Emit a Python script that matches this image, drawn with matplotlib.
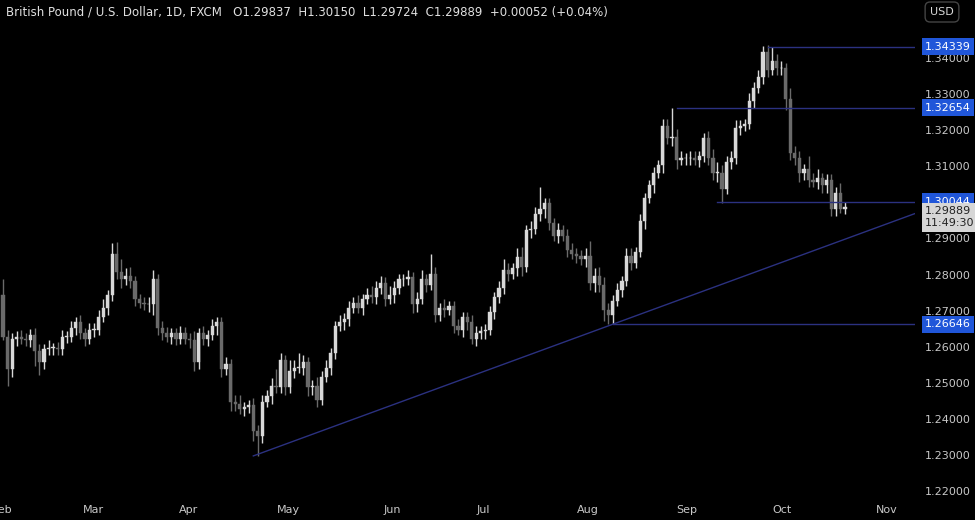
import matplotlib
matplotlib.use("Agg")
import matplotlib.pyplot as plt
import numpy as np

first_open = 1.2745
closes_feb = [1.2630,1.2540,1.2625,1.2630,1.2625,1.2620,1.2635,1.2590,1.2560,1.2595,1.2600,1.2600,1.2595,1.2630,1.2630,1.2655,1.2670,1.2640,1.2625,1.2650]
closes_mar = [1.2650,1.2685,1.2710,1.2745,1.2860,1.2810,1.2790,1.2800,1.2785,1.2735,1.2725,1.2720,1.2720,1.2790,1.2655,1.2640,1.2630,1.2640,1.2625,1.2640,1.2625]
closes_apr = [1.2620,1.2560,1.2640,1.2625,1.2635,1.2660,1.2670,1.2540,1.2555,1.2450,1.2445,1.2430,1.2435,1.2440,1.2370,1.2355,1.2450,1.2465,1.2495,1.2490,1.2565,1.2490]
closes_may = [1.2535,1.2545,1.2545,1.2560,1.2490,1.2495,1.2455,1.2520,1.2545,1.2585,1.2660,1.2670,1.2680,1.2710,1.2725,1.2710,1.2735,1.2745,1.2740,1.2765,1.2780,1.2735,1.2745]
closes_jun = [1.2765,1.2790,1.2790,1.2795,1.2720,1.2735,1.2790,1.2775,1.2805,1.2690,1.2710,1.2705,1.2715,1.2660,1.2650,1.2685,1.2670,1.2625,1.2640,1.2645]
closes_jul = [1.2650,1.2700,1.2740,1.2765,1.2815,1.2805,1.2820,1.2850,1.2825,1.2925,1.2930,1.2970,1.2985,1.3000,1.2945,1.2910,1.2925,1.2910,1.2870,1.2860,1.2855,1.2845,1.2855]
closes_aug = [1.2780,1.2800,1.2775,1.2705,1.2690,1.2730,1.2760,1.2785,1.2855,1.2835,1.2865,1.2950,1.3015,1.3050,1.3085,1.3105,1.3215,1.3180,1.3185,1.3120,1.3125,1.3125]
closes_sep = [1.3125,1.3120,1.3130,1.3180,1.3125,1.3085,1.3085,1.3040,1.3115,1.3125,1.3210,1.3215,1.3220,1.3285,1.3320,1.3350,1.3420,1.3370,1.3395,1.3375,1.3375]
closes_oct = [1.3290,1.3140,1.3125,1.3085,1.3095,1.3065,1.3060,1.3070,1.3050,1.3065,1.2985,1.3030,1.29837,1.29889]

up_pips = [45,20,15,15,20,15,18,20,20,15,20,12,15,18,15,20,15,20,15,18,
           18,20,25,15,30,33,35,20,25,15,15,15,20,25,15,20,18,15,15,20,18,
           15,25,15,20,15,20,15,15,20,15,20,25,15,15,20,15,20,18,20,45,20,15,
           30,20,40,20,15,15,25,15,20,15,15,20,15,20,15,20,15,20,25,20,20,15,25,
           20,15,15,20,15,20,25,15,55,20,15,25,15,15,20,15,15,20,20,15,
           15,15,15,20,30,20,15,25,30,15,20,20,60,15,15,15,20,15,20,20,15,15,20,
           40,20,25,20,20,15,20,15,20,20,15,20,15,15,15,15,20,20,80,20,20,15,
           20,20,15,15,20,25,30,20,15,20,20,15,15,20,15,20,15,20,39,20,20,
           15,30,20,20,15,35,20,25,15,15,15,15,26,14]
low_pips = [10,45,20,20,15,15,18,40,35,20,15,20,15,15,18,15,20,15,20,15,
            20,15,15,20,15,20,25,15,20,20,15,15,20,30,20,20,15,20,18,15,15,
            20,25,20,18,20,15,25,20,15,25,20,15,20,15,30,55,20,15,20,15,15,20,
            15,20,15,20,25,20,20,15,15,20,15,15,20,20,15,15,20,15,15,20,15,20,15,
            20,15,20,15,25,20,15,20,15,20,15,20,15,20,15,20,20,15,20,15,
            20,15,20,15,15,20,15,20,25,15,20,15,20,25,20,15,20,15,20,15,20,15,20,
            20,25,20,30,25,25,15,20,15,20,15,15,20,15,20,15,20,15,20,25,15,20,
            20,15,20,15,20,20,25,39,15,20,15,20,15,15,20,15,20,20,15,20,20,
            30,20,20,25,20,20,15,20,20,20,20,20,11,12]

month_labels = ["Feb","Mar","Apr","May","Jun","Jul","Aug","Sep","Oct","Nov"]
month_starts = [0,20,41,63,86,106,129,151,172,195]
yticks = [1.22,1.23,1.24,1.25,1.26,1.27,1.28,1.29,1.31,1.32,1.33,1.34]
level_vals = [1.34339,1.32654,1.30044,1.26646]
level_start_idx = [168,148,157,134]
trend_p1 = (55, 1.2300)
trend_p2 = (134, 1.2665)

closes = np.array(closes_feb+closes_mar+closes_apr+closes_may+closes_jun+closes_jul+closes_aug+closes_sep+closes_oct)
opens = np.concatenate([[first_open], closes[:-1]])
highs = np.maximum(opens, closes) + np.array(up_pips)/10000
lows = np.minimum(opens, closes) - np.array(low_pips)/10000
n = len(closes)
idx = np.arange(n)

W, H = 975, 520
fig = plt.figure(figsize=(W/100, H/100), dpi=100, facecolor="black")
ax = fig.add_axes([0, 23/H, 915/W, 497/H], facecolor="black")
ax.set_xlim(-0.66, 200.4)
ax.set_ylim(1.22 - 5/3608, 1.22 + 492/3608)
for s in ax.spines.values():
    s.set_visible(False)
ax.set_xticks([]); ax.set_yticks([])

up_c, dn_c = "#d8d8d8", "#6a6a6a"
for i in idx:
    c = up_c if closes[i] >= opens[i] else dn_c
    ax.vlines(i, lows[i], highs[i], color=c, lw=1)
    b = min(opens[i], closes[i]); h = max(abs(closes[i]-opens[i]), 0.00012)
    ax.bar(i, h, bottom=b, width=0.7, color=c, edgecolor=c, lw=0.3)

line_c = "#2b3180"
for v, s in zip(level_vals, level_start_idx):
    ax.plot([s, 200.4], [v, v], color=line_c, lw=1)
slope = (trend_p2[1]-trend_p1[1])/(trend_p2[0]-trend_p1[0])
ax.plot([trend_p1[0], 200.4], [trend_p1[1], trend_p1[1]+slope*(200.4-trend_p1[0])], color=line_c, lw=1)

tr = ax.get_yaxis_transform()
for v in yticks:
    ax.text(1.011, v, f"{v:.5f}", transform=tr, color="#c8c8c8", fontsize=8, va="center", ha="left", clip_on=False)
for v in level_vals:
    ax.text(1.011, v, f"{v:.5f}", transform=tr, color="white", fontsize=8, va="center", ha="left", clip_on=False,
            bbox=dict(boxstyle="square,pad=0.3", fc="#2056d9", ec="none"))
ax.text(1.011, 1.2962, "1.29889\n11:49:30", transform=tr, color="#222222", fontsize=8, va="center", ha="left",
        clip_on=False, linespacing=1.3, bbox=dict(boxstyle="square,pad=0.3", fc="#d6d6d6", ec="none"))

for lab, s in zip(month_labels, month_starts):
    fig.text((3+s*4.53)/W, 1-510/H, lab, color="#c8c8c8", fontsize=8, ha="center", va="center")

fig.text(6/W, 1-12/H, "British Pound / U.S. Dollar, 1D, FXCM   O1.29837  H1.30150  L1.29724  C1.29889  +0.00052 (+0.04%)",
         color="#e0e0e0", fontsize=8.5, ha="left", va="center")
fig.text(942/W, 1-12/H, "USD", color="#d8d8d8", fontsize=8, ha="center", va="center",
         bbox=dict(boxstyle="round,pad=0.45", fc="black", ec="#444444"))

fig.savefig("out.png", dpi=100, facecolor="black")
